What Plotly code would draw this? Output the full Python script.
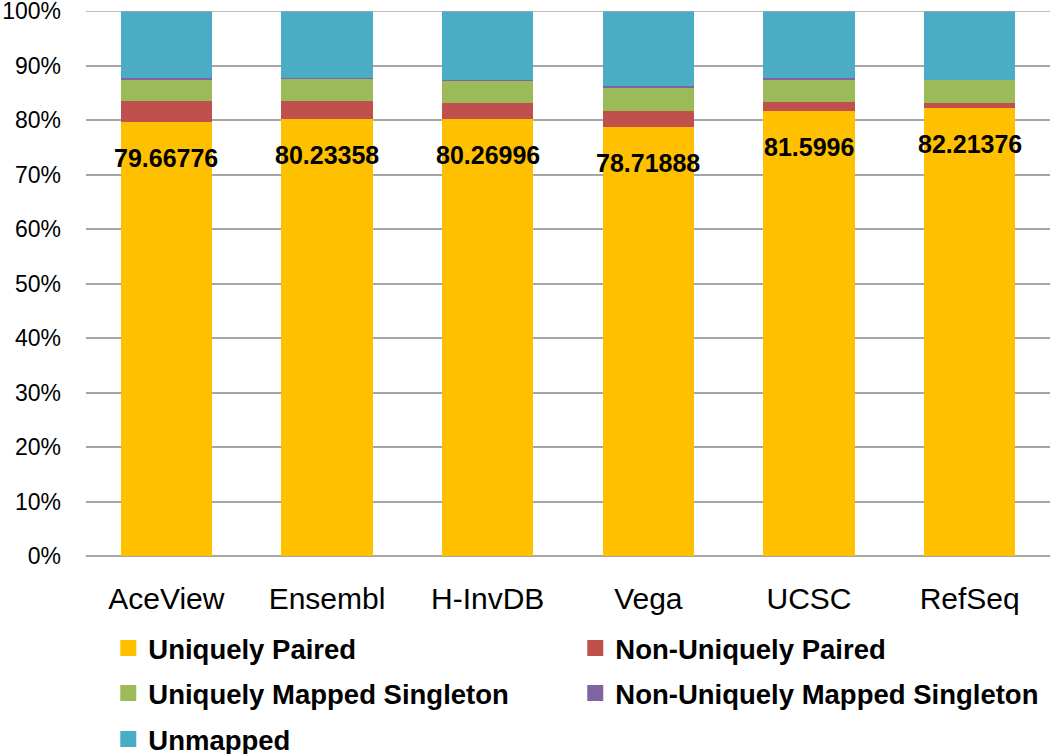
import plotly.graph_objects as go

categories = ["AceView", "Ensembl", "H-InvDB", "Vega", "UCSC", "RefSeq"]
uniquely_paired = [79.66776, 80.23358, 80.26996, 78.71888, 81.5996, 82.21376]
uniquely_paired_labels = ["79.66776", "80.23358", "80.26996", "78.71888", "81.5996", "82.21376"]
non_uniquely_paired = [3.87, 3.30, 2.80, 2.93, 1.70, 0.85]
uniquely_mapped_singleton = [3.98, 4.00, 4.10, 4.35, 4.17, 4.30]
non_uniquely_mapped_singleton = [0.20, 0.20, 0.20, 0.24, 0.23, 0.05]
unmapped = [12.28, 12.27, 12.63, 13.76, 12.30, 12.59]
y_ticks = [0, 10, 20, 30, 40, 50, 60, 70, 80, 90, 100]
y_tick_text = ["0%", "10%", "20%", "30%", "40%", "50%", "60%", "70%", "80%", "90%", "100%"]

FONT = "Liberation Sans, Arial, sans-serif"
GRID = "#A6A6A6"

series = [
    ("Uniquely Paired", uniquely_paired, "#FFC000", "legend"),
    ("Non-Uniquely Paired", non_uniquely_paired, "#C0504D", "legend"),
    ("Uniquely Mapped Singleton", uniquely_mapped_singleton, "#9BBB59", "legend2"),
    ("Non-Uniquely Mapped Singleton", non_uniquely_mapped_singleton, "#8064A2", "legend2"),
    ("Unmapped", unmapped, "#4BACC6", "legend3"),
]

fig = go.Figure()
for name, vals, color, leg in series:
    fig.add_trace(go.Bar(
        x=categories, y=vals, name=name,
        marker=dict(color=color, line=dict(width=0)),
        showlegend=False,
    ))
# legend entries (square swatches)
for name, vals, color, leg in series:
    fig.add_trace(go.Scatter(
        x=[None], y=[None], name=name, mode="markers",
        marker=dict(color=color, symbol="square", size=16, line=dict(width=0)),
        legend=leg, hoverinfo="skip",
    ))

for c, v, t in zip(categories, uniquely_paired, uniquely_paired_labels):
    fig.add_annotation(x=c, y=v, text=f"<b>{t}</b>", showarrow=False,
                       yshift=-36, font=dict(family=FONT, size=25, color="black"))

fig.add_shape(type="line", xref="paper", x0=0, x1=1, yref="y",
              y0=y_ticks[-1], y1=y_ticks[-1], line=dict(color=GRID, width=1.5),
              layer="above")

legend_common = dict(
    orientation="h", xanchor="left", yanchor="middle",
    font=dict(family=FONT, size=27.5, color="black", weight="bold"),
    entrywidth=422, entrywidthmode="pixels",
    bgcolor="rgba(0,0,0,0)", traceorder="normal",
)
lx = 0.02 + 3 / 964

fig.update_layout(
    width=1050, height=754,
    margin=dict(l=86, r=0, t=11, b=198, autoexpand=False),
    paper_bgcolor="white", plot_bgcolor="white",
    barmode="stack", bargap=0.43,
    font=dict(family=FONT, color="black"),
    xaxis=dict(
        tickfont=dict(family=FONT, size=30, color="black"),
        showgrid=False, showline=False, ticks="",
        ticklabelstandoff=22,
    ),
    yaxis=dict(
        range=[0, 100], tickvals=y_ticks, ticktext=y_tick_text,
        tickfont=dict(family=FONT, size=23, color="black"),
        showgrid=True, gridcolor=GRID, gridwidth=1.5,
        zeroline=True, zerolinecolor=GRID, zerolinewidth=1.5,
        showline=False, ticks="", ticklabelstandoff=24,
        ticklabeloverflow="allow",
    ),
    legend=dict(x=lx, y=(556 - 648) / 545, **legend_common),
    legend2=dict(x=lx, y=(556 - 693) / 545, **legend_common),
    legend3=dict(x=lx, y=(556 - 739) / 545, **legend_common),
    showlegend=True,
)

fig.write_html("out.html", config={"displayModeBar": False},
               post_script="document.body.style.margin='0';document.body.style.overflow='hidden';")
